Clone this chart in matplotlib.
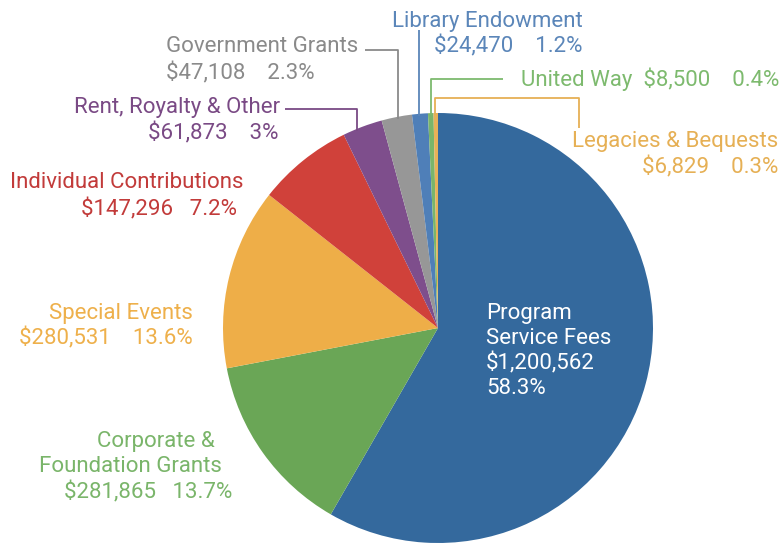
import numpy as np
import matplotlib.pyplot as plt

# Revenue sources, clockwise from the top
sources = ['Program Service Fees', 'Corporate & Foundation Grants', 'Special Events',
           'Individual Contributions', 'Rent, Royalty & Other', 'Government Grants',
           'Library Endowment', 'United Way', 'Legacies & Bequests']
amounts = [1200562, 281865, 280531, 147296, 61873, 47108, 24470, 8500, 6829]
percents = ['58.3%', '13.7%', '13.6%', '7.2%', '3%', '2.3%', '1.2%', '0.4%', '0.3%']

wedge_colors = ['#34699d', '#6aa656', '#eeae48', '#d0413a', '#7e4e8c',
                '#979797', '#4f7fb8', '#7ab56a', '#e8b158']
text_colors = ['white', '#7ab56a', '#eeb04b', '#c23b3a', '#7a4a85',
               '#8a8a8a', '#5b86b9', '#7dba6e', '#e6b055']

W, H = 780, 544
plt.rcParams['font.family'] = ['Roboto', 'DejaVu Sans']
fig = plt.figure(figsize=(W / 100, H / 100), dpi=100)
ax = fig.add_axes([0, 0, 1, 1])
ax.set_xlim(0, W)
ax.set_ylim(0, H)
ax.set_aspect('equal')
ax.axis('off')

cx, cy, r = 438, H - 328, 215
ax.pie(amounts, colors=wedge_colors, startangle=90, counterclock=False,
       center=(cx, cy), radius=r, wedgeprops=dict(linewidth=0))
ax.set_xlim(0, W)
ax.set_ylim(0, H)

fs = 16


def money(v):
    return '${:,}'.format(v)


def put(x, y, s, color, ha='left'):
    ax.text(x, H - y, s, color=color, fontsize=fs, ha=ha, va='center')


def edge_y(x):
    # top edge of the pie at this x, in pixel rows
    return 328 - np.sqrt(r ** 2 - (x - cx) ** 2)


def leader(points, color):
    xs = [p[0] for p in points]
    ys = [H - p[1] for p in points]
    ax.plot(xs, ys, color=color, lw=1.3, solid_capstyle='butt')


# Program Service Fees (inside the wedge)
for i, line in enumerate(['Program', 'Service Fees', money(amounts[0]), percents[0]]):
    put(486, 313 + 25 * i, line, text_colors[0])

# Corporate & Foundation Grants
put(215, 442, 'Corporate &', text_colors[1], ha='right')
put(222, 467, 'Foundation Grants', text_colors[1], ha='right')
put(232, 492, money(amounts[1]) + '   ' + percents[1], text_colors[1], ha='right')

# Special Events
put(193, 313, 'Special Events', text_colors[2], ha='right')
put(193, 338, money(amounts[2]) + '    ' + percents[2], text_colors[2], ha='right')

# Individual Contributions
put(243, 183, 'Individual Contributions', text_colors[3], ha='right')
put(237, 209, money(amounts[3]) + '   ' + percents[3], text_colors[3], ha='right')

# Rent, Royalty & Other
put(280, 108, 'Rent, Royalty & Other', text_colors[4], ha='right')
put(279, 133, money(amounts[4]) + '    ' + percents[4], text_colors[4], ha='right')
leader([(285, 109), (357, 109), (357, edge_y(357) + 2)], text_colors[4])

# Government Grants
put(166, 47, 'Government Grants', text_colors[5])
put(166, 73, money(amounts[5]) + '    ' + percents[5], text_colors[5])
leader([(365, 50), (398, 50), (398, edge_y(398) + 2)], text_colors[5])

# Library Endowment
put(583, 21, 'Library Endowment', text_colors[6], ha='right')
put(583, 46, money(amounts[6]) + '    ' + percents[6], text_colors[6], ha='right')
leader([(419, 30), (419, edge_y(419) + 2)], text_colors[6])

# United Way
put(521, 79, 'United Way  ' + money(amounts[7]) + '    ' + percents[7], text_colors[7])
leader([(503, 79), (431, 79), (431, edge_y(431) + 2)], text_colors[7])

# Legacies & Bequests
put(778, 142, 'Legacies & Bequests', text_colors[8], ha='right')
put(778, 167, money(amounts[8]) + '    ' + percents[8], text_colors[8], ha='right')
leader([(579, 128), (579, 98), (435, 98), (435, edge_y(435) + 2)], text_colors[8])

fig.savefig('out.png', dpi=100)
